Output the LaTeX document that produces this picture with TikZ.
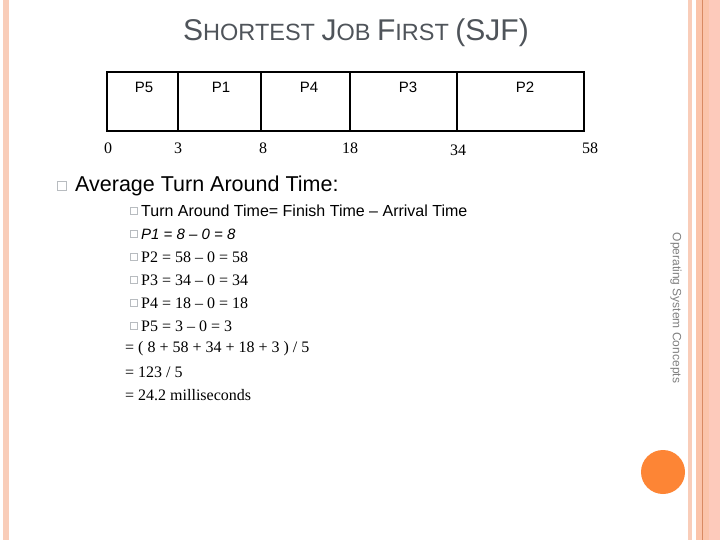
\documentclass[tikz,border=0pt]{standalone}
\usepackage{fontspec}
\setmainfont{Liberation Serif}
\setsansfont{Liberation Sans}
\usetikzlibrary{positioning}

\definecolor{bandlight}{HTML}{F9CDB9}
\definecolor{bandmid}{HTML}{FBC4AA}
\definecolor{bandpale}{HTML}{FDCABB}
\definecolor{bandline}{HTML}{D98A62}
\definecolor{dotorange}{HTML}{FD8535}
\definecolor{titlegray}{HTML}{4F545A}
\definecolor{bulletgray}{HTML}{B8BCC0}

\begin{document}
\begin{tikzpicture}[
    x=1bp, y=-1bp,
    seg/.style={rectangle, draw=black, line width=1.6bp, minimum height=59bp, inner sep=0pt},
    proc/.style={font=\sffamily\fontsize{15bp}{18bp}\selectfont},
    tick/.style={font=\rmfamily\fontsize{16bp}{19bp}\selectfont},
    bigbox/.style={rectangle, draw=bulletgray, fill=white, line width=0.6bp, minimum size=9bp, inner sep=0pt},
    smallbox/.style={rectangle, draw=bulletgray, fill=white, line width=0.5bp, minimum size=7bp, inner sep=0pt},
    line/.style={anchor=west, inner sep=0pt, font=\rmfamily\fontsize{16bp}{19bp}\selectfont}
]
    \useasboundingbox (0,0) rectangle (720,540);
    \fill[white] (0,0) rectangle (720,540);

    % Side bands
    \fill[bandlight] (3,0) rectangle (9,540);
    \fill[bandlight] (688,0) rectangle (692,540);
    \fill[bandmid] (696,0) rectangle (709,540);
    \fill[bandpale] (709,0) rectangle (720,540);
    \draw[bandline, line width=1bp] (702.5,0) -- (702.5,540);

    % Title
    \node[text=titlegray, font=\sffamily] (title) at (356,33)
        {\fontsize{30bp}{34bp}\selectfont S\fontsize{23.5bp}{34bp}\selectfont HORTEST
         \fontsize{30bp}{34bp}\selectfont J\fontsize{23.5bp}{34bp}\selectfont OB
         \fontsize{30bp}{34bp}\selectfont F\fontsize{23.5bp}{34bp}\selectfont IRST
         \fontsize{30bp}{34bp}\selectfont (SJF)};

    % Gantt chart
    \node[seg, minimum width=71bp] (p5) at (142.5,101.5) {};
    \node[seg, minimum width=83bp] (p1) at (219.5,101.5) {};
    \node[seg, minimum width=89bp] (p4) at (305.5,101.5) {};
    \node[seg, minimum width=107bp] (p3) at (403.5,101.5) {};
    \node[seg, minimum width=127bp] (p2) at (520.5,101.5) {};

    \node[proc] (p5lbl) at (144,87) {P5};
    \node[proc] (p1lbl) at (221,87) {P1};
    \node[proc] (p4lbl) at (309,87) {P4};
    \node[proc] (p3lbl) at (408,87) {P3};
    \node[proc] (p2lbl) at (525,87) {P2};

    \node[tick] (t0) at (108,148) {0};
    \node[tick] (t3) at (178,148) {3};
    \node[tick] (t8) at (263,148) {8};
    \node[tick] (t18) at (350,148) {18};
    \node[tick] (t34) at (458,150) {34};
    \node[tick] (t58) at (590,148) {58};

    % Average turn around time
    \node[bigbox] (b0) at (62,186) {};
    \node[anchor=west, inner sep=0pt, font=\sffamily\fontsize{21.5bp}{25bp}\selectfont] (avg) at (75,186)
        {Average Turn Around Time:};

    \node[smallbox] (b1) at (134,211) {};
    \node[line, font=\sffamily\fontsize{16bp}{19bp}\selectfont] (tat) at (141,211)
        {Turn Around Time= Finish Time -- Arrival Time};
    \node[smallbox] (b2) at (134,234) {};
    \node[line, font=\sffamily\itshape\fontsize{15bp}{18bp}\selectfont] (r1) at (141,234)
        {P1 = 8 -- 0 = 8};
    \node[smallbox] (b3) at (134,257) {};
    \node[line] (r2) at (141,257) {P2 = 58 -- 0 = 58};
    \node[smallbox] (b4) at (134,280) {};
    \node[line] (r3) at (141,280) {P3 = 34 -- 0 = 34};
    \node[smallbox] (b5) at (134,303) {};
    \node[line] (r4) at (141,303) {P4 = 18 -- 0 = 18};
    \node[smallbox] (b6) at (134,326) {};
    \node[line] (r5) at (141,326) {P5 = 3 -- 0 = 3};
    \node[line] (sum) at (125,349) {= ( 8 + 58 + 34 + 18 + 3 ) / 5};
    \node[line] (quot) at (125,372) {= 123 / 5};
    \node[line] (res) at (125,395) {= 24.2 milliseconds};

    % Footer
    \node[rotate=-90, text=gray, font=\sffamily\fontsize{12bp}{14bp}\selectfont] (footer) at (676,308)
        {Operating System Concepts};
    \node[circle, fill=dotorange, minimum size=44bp, inner sep=0pt] (dot) at (663,472) {};
\end{tikzpicture}
\end{document}
